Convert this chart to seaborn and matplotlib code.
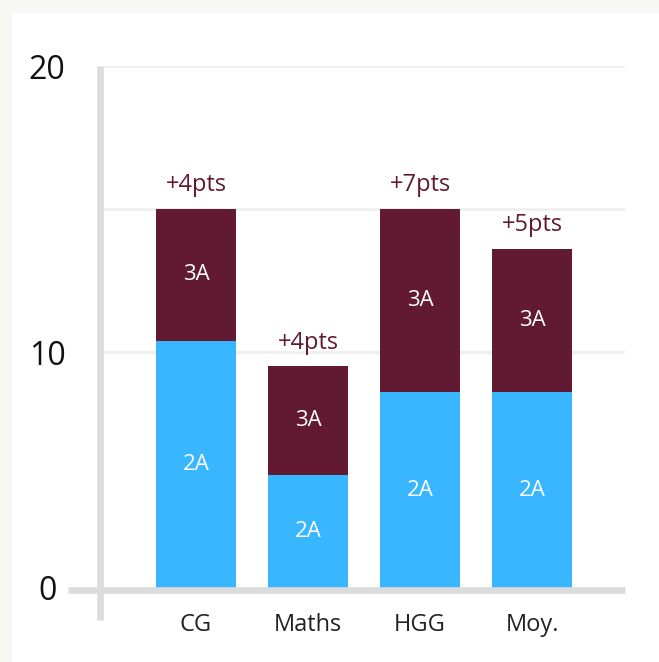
import pandas as pd
import seaborn as sns
from matplotlib import pyplot as plt
from matplotlib.patches import Rectangle

# data
subjects = ["CG", "Maths", "HGG", "Moy."]
score_2a = [10.4, 5.7, 8.6, 8.6]
gain_3a = [4.6, 3.8, 6.4, 5.0]
gain_labels = ["+4pts", "+4pts", "+7pts", "+5pts"]
grid_values = [10, 15, 20]
tick_labels = ["0", "10", "", "20"]

COL_2A = "#38b6ff"
COL_3A = "#621a33"
AXIS_GREY = "#dcdcdc"

sns.set_style("white")
plt.rcParams["font.family"] = ["Open Sans", "DejaVu Sans"]

df = pd.DataFrame({"subject": subjects, "2A": score_2a, "3A": gain_3a})
df["total"] = df["2A"] + df["3A"]

fig = plt.figure(figsize=(6.59, 6.62), dpi=100, facecolor="#f7f7f3")
fig.patches.append(Rectangle((12 / 659, 0), 1, (662 - 13) / 662,
                             transform=fig.transFigure, facecolor="white",
                             edgecolor="none", zorder=-10))
ax = fig.add_axes([100 / 659, 74 / 662, 525 / 659, 522 / 662])
ax.set_zorder(1)
ax.set_facecolor("none")

y_bottom = 1.75

for g in grid_values:
    ax.axhline(g, color="#efefef", lw=2, zorder=1)

# stacked bars: totals (3A) behind, 2A in front
sns.barplot(data=df, x="subject", y="total", color=COL_3A, saturation=1,
            width=0.714, linewidth=0, ax=ax, zorder=2)
sns.barplot(data=df, x="subject", y="2A", color=COL_2A, saturation=1,
            width=0.714, linewidth=0, ax=ax, zorder=2)
ax.set_ylim(y_bottom, 20)
ax.set_xlim(-0.857, 3.83)

for i, row in df.iterrows():
    ax.text(i, (y_bottom + row["2A"]) / 2, "2A", ha="center", va="center",
            color="white", fontsize=16, zorder=4)
    ax.text(i, row["2A"] + row["3A"] / 2, "3A", ha="center", va="center",
            color="white", fontsize=16, zorder=4)
    ax.annotate(gain_labels[i], (i, row["total"]), xytext=(0, 17),
                textcoords="offset points", ha="center", va="center",
                color=COL_3A, fontsize=17, zorder=4)

# custom axis lines crossing at the origin
ax.plot([0, 0], [-0.061, 1.0], transform=ax.transAxes, color=AXIS_GREY,
        lw=4.8, clip_on=False, solid_capstyle="butt", zorder=3)
ax.plot([-0.061, 1.0], [-0.004, -0.004], transform=ax.transAxes, color=AXIS_GREY,
        lw=4.8, clip_on=False, solid_capstyle="butt", zorder=3)

for s in ax.spines.values():
    s.set_visible(False)

ax.set_yticks([y_bottom] + grid_values)
ax.set_yticklabels(tick_labels)
ax.tick_params(axis="y", length=0, pad=38, labelsize=23, labelcolor="#111111")
for lbl in ax.get_yticklabels():
    lbl.set_horizontalalignment("center")
ax.tick_params(axis="x", length=0, pad=18, labelsize=17, labelcolor="#222222")
ax.set_xlabel("")
ax.set_ylabel("")

fig.savefig("out.png", dpi=100, facecolor=fig.get_facecolor())
